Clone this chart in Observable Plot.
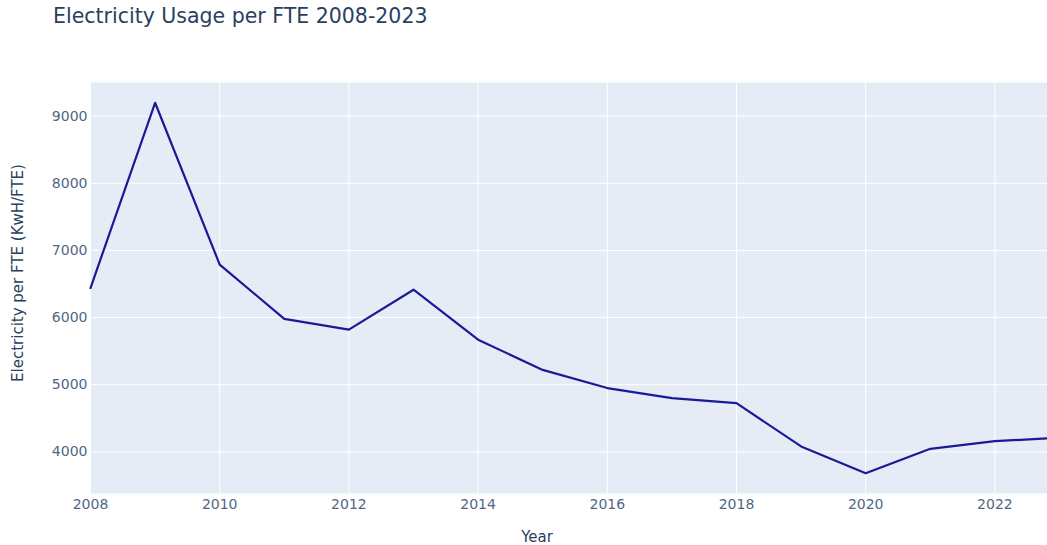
<!DOCTYPE html>
<html>
<head>
<meta charset="utf-8">
<script src="https://cdn.jsdelivr.net/npm/d3@7"></script>
<script src="https://cdn.jsdelivr.net/npm/@observablehq/plot@0.6"></script>
<style>
  html, body { margin: 0; padding: 0; background: #fff; overflow: hidden; width: 1047px; height: 545px; }
  #wrap { position: relative; width: 1047px; height: 545px; overflow: hidden; }
  #title { position: absolute; left: 53px; top: 6px; font-family: "DejaVu Sans", Verdana, sans-serif; font-size: 20.5px; line-height: 20px; color: #2a3f5f; white-space: nowrap; }
  #chart { position: absolute; left: 0; top: 0; width: 1060px; }
  #chart svg { max-width: none !important; }
</style>
</head>
<body>
<div id="wrap">
  <div id="chart"></div>
  <div id="title">Electricity Usage per FTE 2008-2023</div>
</div>
<script>
const years = [2008, 2009, 2010, 2011, 2012, 2013, 2014, 2015, 2016, 2017, 2018, 2019, 2020, 2021, 2022, 2023];
const usage = [6440, 9200, 6790, 5980, 5820, 6415, 5670, 5220, 4950, 4800, 4725, 4080, 3680, 4045, 4158, 4210];
const xTicks = [2008, 2010, 2012, 2014, 2016, 2018, 2020, 2022];
const yTicks = [4000, 5000, 6000, 7000, 8000, 9000];
const xTitle = "Year";
const yTitle = "Electricity per FTE (KwH/FTE)";

const data = years.map((y, i) => ({year: y, value: usage[i]}));

const font = '"DejaVu Sans", Verdana, sans-serif';
const plot = Plot.plot({
  width: 1060,
  height: 545,
  marginLeft: 90,
  marginRight: 1,
  marginTop: 82,
  marginBottom: 52,
  style: {fontFamily: font, fontSize: "14px", color: "#506784", background: "transparent", overflow: "visible", maxWidth: "none"},
  x: {domain: [2008, 2023], ticks: xTicks, tickFormat: d => String(d), label: null},
  y: {domain: [3379, 9502], ticks: yTicks, tickFormat: d => String(d), label: null},
  marks: [
    Plot.frame({fill: "#e5ecf6", stroke: null}),
    Plot.gridX(xTicks, {stroke: "white", strokeOpacity: 1, strokeWidth: 1}),
    Plot.gridY(yTicks, {stroke: "white", strokeOpacity: 1, strokeWidth: 1}),
    Plot.axisX({ticks: xTicks, tickSize: 0, tickPadding: 6, tickFormat: d => String(d), label: null, fontSize: 14}),
    Plot.axisY({ticks: yTicks, tickSize: 0, tickPadding: 3, tickFormat: d => String(d), label: null, fontSize: 14}),
    Plot.line(data, {x: "year", y: "value", stroke: "#1a1a96", strokeWidth: 2.2}),
    Plot.text([xTitle], {frameAnchor: "bottom", text: d => d, dx: -38, dy: 44, fontSize: 15, fill: "#2a3f5f", lineAnchor: "middle", textAnchor: "middle"}),
    Plot.text([yTitle], {frameAnchor: "left", text: d => d, dx: -72, dy: -15, rotate: -90, fontSize: 15, fill: "#2a3f5f", lineAnchor: "middle", textAnchor: "middle"})
  ]
});
document.getElementById("chart").appendChild(plot);
</script>
</body>
</html>
